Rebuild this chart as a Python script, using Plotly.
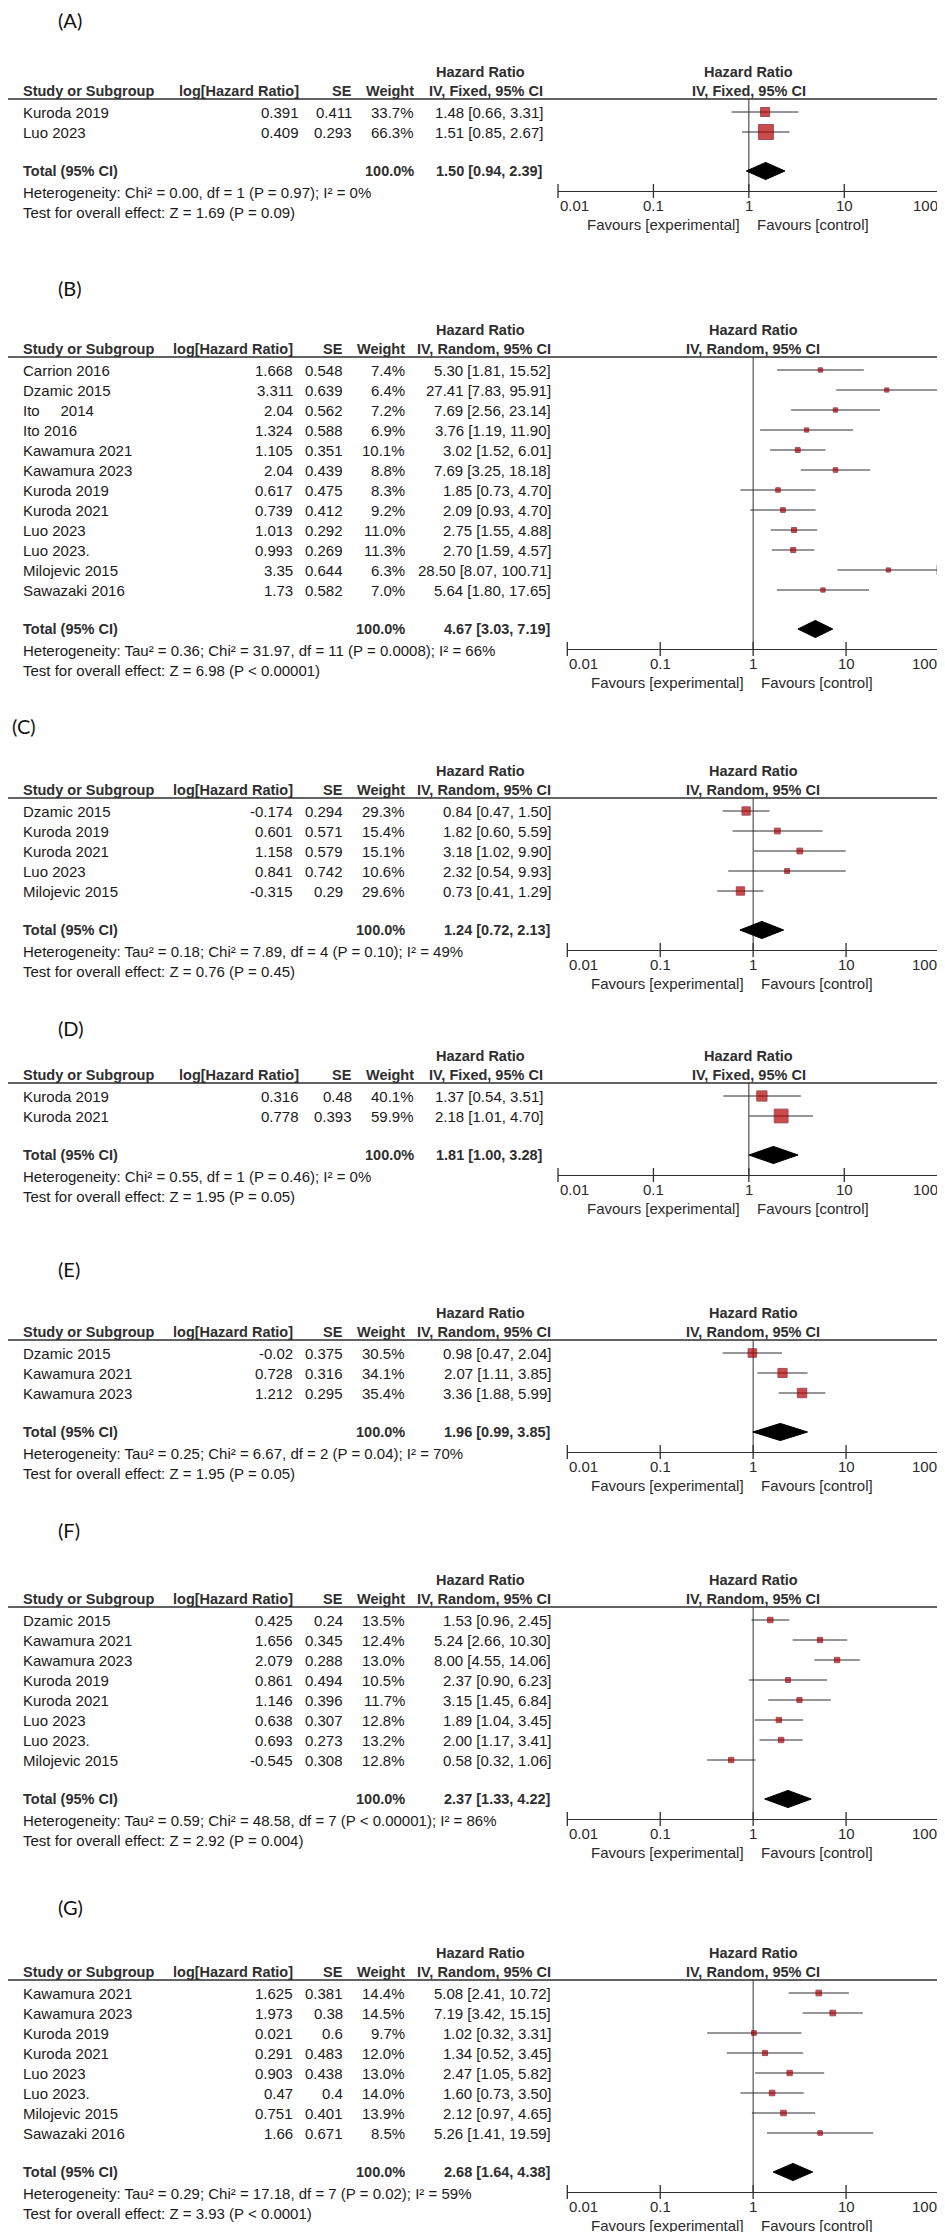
import math
import plotly.graph_objects as go

W, H = 945, 2232
ROW = 20

# ---------------- DATA ----------------
A_studies = ["Kuroda 2019", "Luo 2023"]
A_log = [0.391, 0.409]
A_se = [0.411, 0.293]
A_weight = [33.7, 66.3]
A_hr = [1.48, 1.51]
A_lo = [0.66, 0.85]
A_hi = [3.31, 2.67]
A_total = [1.50, 0.94, 2.39]
A_het = "Heterogeneity: Chi² = 0.00, df = 1 (P = 0.97); I² = 0%"
A_test = "Test for overall effect: Z = 1.69 (P = 0.09)"

B_studies = ["Carrion 2016", "Dzamic 2015", "Ito\u00a0\u00a0\u00a0\u00a0 2014", "Ito 2016", "Kawamura 2021",
             "Kawamura 2023", "Kuroda 2019", "Kuroda 2021", "Luo 2023", "Luo 2023.",
             "Milojevic 2015", "Sawazaki 2016"]
B_log = [1.668, 3.311, 2.04, 1.324, 1.105, 2.04, 0.617, 0.739, 1.013, 0.993, 3.35, 1.73]
B_se = [0.548, 0.639, 0.562, 0.588, 0.351, 0.439, 0.475, 0.412, 0.292, 0.269, 0.644, 0.582]
B_weight = [7.4, 6.4, 7.2, 6.9, 10.1, 8.8, 8.3, 9.2, 11.0, 11.3, 6.3, 7.0]
B_hr = [5.30, 27.41, 7.69, 3.76, 3.02, 7.69, 1.85, 2.09, 2.75, 2.70, 28.50, 5.64]
B_lo = [1.81, 7.83, 2.56, 1.19, 1.52, 3.25, 0.73, 0.93, 1.55, 1.59, 8.07, 1.80]
B_hi = [15.52, 95.91, 23.14, 11.90, 6.01, 18.18, 4.70, 4.70, 4.88, 4.57, 100.71, 17.65]
B_total = [4.67, 3.03, 7.19]
B_het = "Heterogeneity: Tau² = 0.36; Chi² = 31.97, df = 11 (P = 0.0008); I² = 66%"
B_test = "Test for overall effect: Z = 6.98 (P < 0.00001)"

C_studies = ["Dzamic 2015", "Kuroda 2019", "Kuroda 2021", "Luo 2023", "Milojevic 2015"]
C_log = [-0.174, 0.601, 1.158, 0.841, -0.315]
C_se = [0.294, 0.571, 0.579, 0.742, 0.29]
C_weight = [29.3, 15.4, 15.1, 10.6, 29.6]
C_hr = [0.84, 1.82, 3.18, 2.32, 0.73]
C_lo = [0.47, 0.60, 1.02, 0.54, 0.41]
C_hi = [1.50, 5.59, 9.90, 9.93, 1.29]
C_total = [1.24, 0.72, 2.13]
C_het = "Heterogeneity: Tau² = 0.18; Chi² = 7.89, df = 4 (P = 0.10); I² = 49%"
C_test = "Test for overall effect: Z = 0.76 (P = 0.45)"

D_studies = ["Kuroda 2019", "Kuroda 2021"]
D_log = [0.316, 0.778]
D_se = [0.48, 0.393]
D_weight = [40.1, 59.9]
D_hr = [1.37, 2.18]
D_lo = [0.54, 1.01]
D_hi = [3.51, 4.70]
D_total = [1.81, 1.00, 3.28]
D_het = "Heterogeneity: Chi² = 0.55, df = 1 (P = 0.46); I² = 0%"
D_test = "Test for overall effect: Z = 1.95 (P = 0.05)"

E_studies = ["Dzamic 2015", "Kawamura 2021", "Kawamura 2023"]
E_log = [-0.02, 0.728, 1.212]
E_se = [0.375, 0.316, 0.295]
E_weight = [30.5, 34.1, 35.4]
E_hr = [0.98, 2.07, 3.36]
E_lo = [0.47, 1.11, 1.88]
E_hi = [2.04, 3.85, 5.99]
E_total = [1.96, 0.99, 3.85]
E_het = "Heterogeneity: Tau² = 0.25; Chi² = 6.67, df = 2 (P = 0.04); I² = 70%"
E_test = "Test for overall effect: Z = 1.95 (P = 0.05)"

F_studies = ["Dzamic 2015", "Kawamura 2021", "Kawamura 2023", "Kuroda 2019", "Kuroda 2021",
             "Luo 2023", "Luo 2023.", "Milojevic 2015"]
F_log = [0.425, 1.656, 2.079, 0.861, 1.146, 0.638, 0.693, -0.545]
F_se = [0.24, 0.345, 0.288, 0.494, 0.396, 0.307, 0.273, 0.308]
F_weight = [13.5, 12.4, 13.0, 10.5, 11.7, 12.8, 13.2, 12.8]
F_hr = [1.53, 5.24, 8.00, 2.37, 3.15, 1.89, 2.00, 0.58]
F_lo = [0.96, 2.66, 4.55, 0.90, 1.45, 1.04, 1.17, 0.32]
F_hi = [2.45, 10.30, 14.06, 6.23, 6.84, 3.45, 3.41, 1.06]
F_total = [2.37, 1.33, 4.22]
F_het = "Heterogeneity: Tau² = 0.59; Chi² = 48.58, df = 7 (P < 0.00001); I² = 86%"
F_test = "Test for overall effect: Z = 2.92 (P = 0.004)"

G_studies = ["Kawamura 2021", "Kawamura 2023", "Kuroda 2019", "Kuroda 2021", "Luo 2023",
             "Luo 2023.", "Milojevic 2015", "Sawazaki 2016"]
G_log = [1.625, 1.973, 0.021, 0.291, 0.903, 0.47, 0.751, 1.66]
G_se = [0.381, 0.38, 0.6, 0.483, 0.438, 0.4, 0.401, 0.671]
G_weight = [14.4, 14.5, 9.7, 12.0, 13.0, 14.0, 13.9, 8.5]
G_hr = [5.08, 7.19, 1.02, 1.34, 2.47, 1.60, 2.12, 5.26]
G_lo = [2.41, 3.42, 0.32, 0.52, 1.05, 0.73, 0.97, 1.41]
G_hi = [10.72, 15.15, 3.31, 3.45, 5.82, 3.50, 4.65, 19.59]
G_total = [2.68, 1.64, 4.38]
G_het = "Heterogeneity: Tau² = 0.29; Chi² = 17.18, df = 7 (P = 0.02); I² = 59%"
G_test = "Test for overall effect: Z = 3.93 (P < 0.0001)"

total_weight = 100.0
tick_vals = [0.01, 0.1, 1, 10, 100]
tick_text = ["0.01", "0.1", "1", "10", "100"]

panels = [
    dict(tag="(A)", method="Fixed", studies=A_studies, log=A_log, se=A_se, w=A_weight,
         hr=A_hr, lo=A_lo, hi=A_hi, total=A_total, het=A_het, test=A_test),
    dict(tag="(B)", method="Random", studies=B_studies, log=B_log, se=B_se, w=B_weight,
         hr=B_hr, lo=B_lo, hi=B_hi, total=B_total, het=B_het, test=B_test),
    dict(tag="(C)", method="Random", studies=C_studies, log=C_log, se=C_se, w=C_weight,
         hr=C_hr, lo=C_lo, hi=C_hi, total=C_total, het=C_het, test=C_test),
    dict(tag="(D)", method="Fixed", studies=D_studies, log=D_log, se=D_se, w=D_weight,
         hr=D_hr, lo=D_lo, hi=D_hi, total=D_total, het=D_het, test=D_test),
    dict(tag="(E)", method="Random", studies=E_studies, log=E_log, se=E_se, w=E_weight,
         hr=E_hr, lo=E_lo, hi=E_hi, total=E_total, het=E_het, test=E_test),
    dict(tag="(F)", method="Random", studies=F_studies, log=F_log, se=F_se, w=F_weight,
         hr=F_hr, lo=F_lo, hi=F_hi, total=F_total, het=F_het, test=F_test),
    dict(tag="(G)", method="Random", studies=G_studies, log=G_log, se=G_se, w=G_weight,
         hr=G_hr, lo=G_lo, hi=G_hi, total=G_total, het=G_het, test=G_test),
]

# ---------------- LAYOUT (pixel positions) ----------------
panel_pos = [
    dict(label_x=48, label_y=12, r0=104),
    dict(label_x=48, label_y=280, r0=362),
    dict(label_x=2, label_y=718, r0=803),
    dict(label_x=48, label_y=1020, r0=1088),
    dict(label_x=48, label_y=1261, r0=1345),
    dict(label_x=48, label_y=1522, r0=1612),
    dict(label_x=48, label_y=1899, r0=1985),
]
COLS = {
    "Fixed": dict(log_r=293, se_r=346, w_r=408, ci_r=537, hr_c=473, ax0=550, ax1=931.7),
    "Random": dict(log_r=287, se_r=337, w_r=399, ci_r=545, hr_c=473, ax0=559.3, ax1=931),
}

FONT = "Liberation Sans, Arial, sans-serif"
TXT = "#1a1a1a"
HDR = "#2e2e2e"
LINE = "#2f2f2f"
SQ = "#b50000"
SQ_EDGE = "#7d0012"
FS = 15
FSB = 14.5

fig = go.Figure()
annotations = []
shapes = []
layout_axes = {}


def px_x(px):
    return px / W


def add_panel(k, P, L):
    xa = "x" if k == 1 else f"x{k}"
    ya = "y" if k == 1 else f"y{k}"
    xkey = "xaxis" if k == 1 else f"xaxis{k}"
    ykey = "yaxis" if k == 1 else f"yaxis{k}"
    C = COLS[P["method"]]
    n = len(P["studies"])
    r0 = L["r0"]

    def rv(px):
        return (px - r0) / ROW

    U = r0 - 13
    total_px = r0 + ROW * (n - 1) + 39
    axis_px = total_px + 20
    het_px = total_px + 21
    test_px = total_px + 41
    tick_px = axis_px + 14
    fav_px = axis_px + 33
    h1_px = U - 27
    h2_px = U - 8
    top_px = max(L["label_y"] - 20, 0)
    bot_px = min(fav_px + 12, H)

    layout_axes[xkey] = dict(
        type="log", range=[-2, 2], domain=[C["ax0"] / W, C["ax1"] / W],
        anchor="free", position=1 - axis_px / H,
        showline=True, linecolor=LINE, linewidth=1.3,
        showgrid=False, zeroline=False, showticklabels=False, ticks="",
        fixedrange=True,
    )
    layout_axes[ykey] = dict(
        range=[rv(bot_px), rv(top_px)], domain=[1 - bot_px / H, 1 - top_px / H],
        visible=False, showgrid=False, zeroline=False, fixedrange=True,
    )

    rows = list(range(n))
    t_y = rv(total_px)
    est, tlo, thi = P["total"]

    # vertical line of no effect
    fig.add_trace(go.Scatter(x=[1, 1], y=[rv(U), rv(axis_px)], mode="lines",
                             line=dict(color=LINE, width=1), xaxis=xa, yaxis=ya,
                             hoverinfo="skip"))
    # CI lines
    cx, cy = [], []
    for i in rows:
        cx += [P["lo"][i], min(P["hi"][i], 100), None]
        cy += [i, i, None]
    fig.add_trace(go.Scatter(x=cx, y=cy, mode="lines", line=dict(color=LINE, width=1),
                             xaxis=xa, yaxis=ya, hoverinfo="skip"))
    # arrows for CIs beyond axis
    ar = [i for i in rows if P["hi"][i] > 100]
    if ar:
        fig.add_trace(go.Scatter(x=[100 for _ in ar], y=ar, mode="markers",
                                 marker=dict(symbol="triangle-right", size=9, color="#111"),
                                 xaxis=xa, yaxis=ya, cliponaxis=False, hoverinfo="skip"))
    # squares
    fig.add_trace(go.Scatter(
        x=P["hr"], y=rows, mode="markers",
        marker=dict(symbol="square", size=[3 + 0.18 * w for w in P["w"]], color=SQ,
                    line=dict(color=SQ_EDGE, width=1)),
        xaxis=xa, yaxis=ya, hoverinfo="skip"))
    # diamond
    fig.add_trace(go.Scatter(
        x=[tlo, est, thi, est, tlo], y=[t_y, t_y - 0.43, t_y, t_y + 0.43, t_y],
        mode="lines", fill="toself", fillcolor="#000000", line=dict(color="#000000", width=1),
        xaxis=xa, yaxis=ya, hoverinfo="skip"))
    # axis ticks
    fig.add_trace(go.Scatter(
        x=tick_vals, y=[rv(axis_px)] * len(tick_vals), mode="markers",
        marker=dict(symbol="line-ns", size=10, line=dict(color=LINE, width=1.3)),
        xaxis=xa, yaxis=ya, cliponaxis=False, hoverinfo="skip"))

    # header rule
    shapes.append(dict(type="line", xref="paper", yref=ya, x0=0, x1=1,
                       y0=rv(U), y1=rv(U), line=dict(color=LINE, width=1.3)))

    def txt(x, y, s, anchor="left", bold=False, xref="paper", size=None, color=None,
            family=None, xshift=0):
        # annotations on a log axis take log10 of the value
        xx = math.log10(x) if xref != "paper" else x
        annotations.append(dict(
            x=xx, y=y, xref=xref, yref=ya, text=(f"<b>{s}</b>" if bold else s),
            showarrow=False, xanchor=anchor, yanchor="middle", xshift=xshift,
            font=dict(family=family or FONT, size=size or (FSB if bold else FS),
                      color=color or (HDR if bold else TXT))))

    # panel label
    txt(px_x(L["label_x"]), rv(L["label_y"]), P["tag"], size=20,
        family="Lato, Open Sans, sans-serif", color="#111")

    # headers
    meth = f"IV, {P['method']}, 95% CI"
    txt(px_x(C["hr_c"]), rv(h1_px), "Hazard Ratio", anchor="center", bold=True)
    txt(1, rv(h1_px), "Hazard Ratio", anchor="center", bold=True, xref=xa)
    txt(px_x(13), rv(h2_px), "Study or Subgroup", bold=True)
    txt(px_x(C["log_r"]), rv(h2_px), "log[Hazard Ratio]", anchor="right", bold=True)
    txt(px_x(C["se_r"]), rv(h2_px), "SE", anchor="right", bold=True)
    txt(px_x(C["w_r"]), rv(h2_px), "Weight", anchor="right", bold=True)
    txt(px_x(C["ci_r"]), rv(h2_px), meth, anchor="right", bold=True)
    txt(1, rv(h2_px), meth, anchor="center", bold=True, xref=xa)

    # rows
    for i in rows:
        txt(px_x(13), i, P["studies"][i])
        txt(px_x(C["log_r"]), i, str(P["log"][i]), anchor="right")
        txt(px_x(C["se_r"]), i, str(P["se"][i]), anchor="right")
        txt(px_x(C["w_r"]), i, f"{P['w'][i]:.1f}%", anchor="right")
        txt(px_x(C["ci_r"]), i, f"{P['hr'][i]:.2f} [{P['lo'][i]:.2f}, {P['hi'][i]:.2f}]",
            anchor="right")

    # total
    txt(px_x(13), t_y, "Total (95% CI)", bold=True)
    txt(px_x(C["w_r"]), t_y, f"{total_weight:.1f}%", anchor="right", bold=True)
    txt(px_x(C["ci_r"]), t_y, f"{est:.2f} [{tlo:.2f}, {thi:.2f}]", anchor="right", bold=True)
    txt(px_x(13), rv(het_px), P["het"])
    txt(px_x(13), rv(test_px), P["test"])

    # tick labels
    for j, (tv, tt) in enumerate(zip(tick_vals, tick_text)):
        anc = "left" if j == 0 else ("right" if j == len(tick_vals) - 1 else "center")
        txt(tv, rv(tick_px), tt, anchor=anc, xref=xa, color="#2a2a2a")
    txt(1, rv(fav_px), "Favours [experimental]", anchor="right", xref=xa, xshift=-7,
        color="#2a2a2a")
    txt(1, rv(fav_px), "Favours [control]", anchor="left", xref=xa, xshift=6, color="#2a2a2a")


for k, (P, L) in enumerate(zip(panels, panel_pos), start=1):
    add_panel(k, P, L)

fig.update_layout(
    width=W, height=H, margin=dict(l=0, r=0, t=0, b=0),
    paper_bgcolor="white", plot_bgcolor="white", showlegend=False,
    annotations=annotations, shapes=shapes, **layout_axes,
)
fig.write_html("out.html")
